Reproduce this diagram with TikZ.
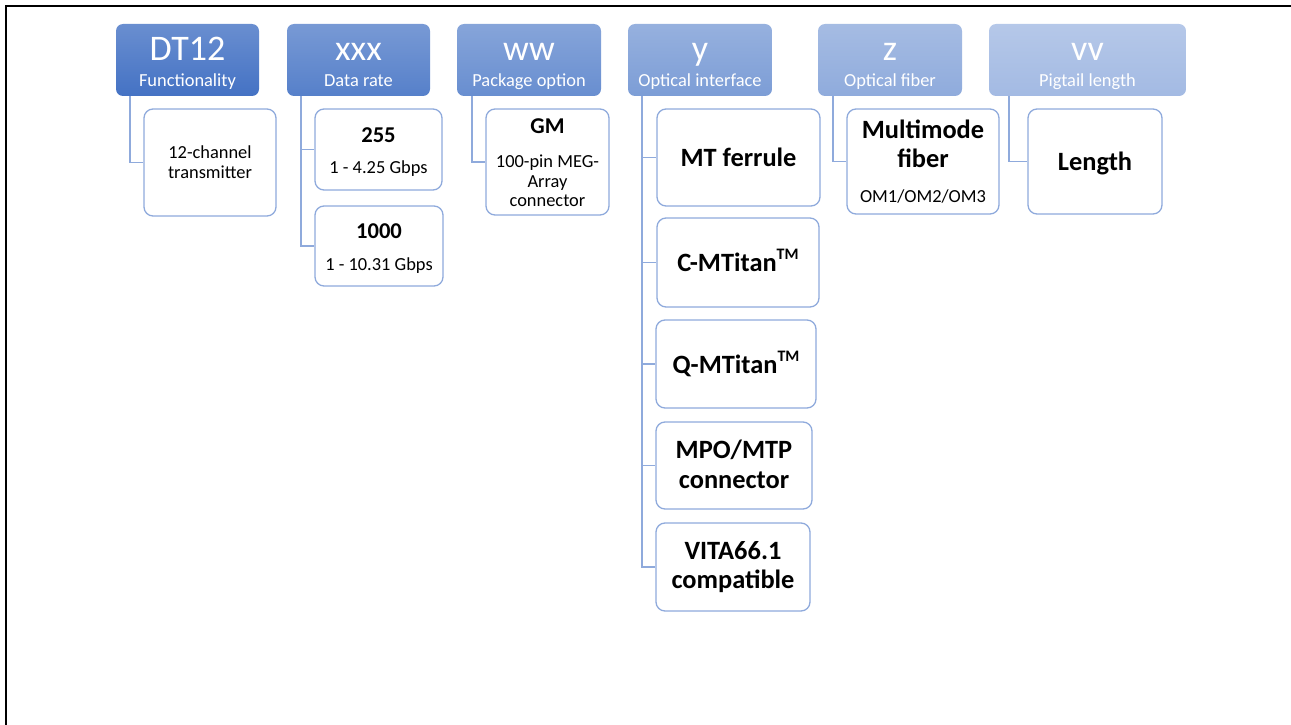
\documentclass[tikz,border=0pt]{standalone}
\usepackage{fontspec}
\setmainfont{Carlito}
\definecolor{hA}{RGB}{68,114,196}
\definecolor{hB}{RGB}{86,128,202}
\definecolor{hC}{RGB}{104,142,208}
\definecolor{hD}{RGB}{124,157,214}
\definecolor{hE}{RGB}{143,171,220}
\definecolor{hF}{RGB}{163,186,227}
\definecolor{boxc}{HTML}{8FAADC}
\definecolor{connc}{HTML}{8FAADC}
\tikzset{
  wh/.style n args={2}{minimum width=#1pt, minimum height=#2pt},
  hdr/.style={rounded corners=7pt, inner sep=0pt, top color=#1!80!white, bottom color=#1, draw=none},
  optbox/.style={draw=boxc, line width=1.3pt, rounded corners=9pt, fill=white, inner sep=0pt},
  conn/.style={draw=connc, line width=1.4pt},
  ttl/.style={anchor=base, text=white, font=\fontsize{36}{40}\selectfont, inner sep=0pt},
  sub/.style={anchor=base, text=white, font=\fontsize{18.4}{22}\selectfont, inner sep=0pt},
  reg/.style={anchor=base, text=black, font=\fontsize{18.4}{22}\selectfont, inner sep=0pt},
  bmid/.style={anchor=base, text=black, font=\fontsize{22.6}{26}\selectfont\bfseries, inner sep=0pt},
  bbig/.style={anchor=base, text=black, font=\fontsize{26.4}{30}\selectfont\bfseries, inner sep=0pt},
}
\newcommand{\tmark}{\raisebox{0.42em}{\fontsize{16}{18}\selectfont TM}}
\begin{document}
\begin{tikzpicture}[x=1pt,y=-1pt]
\useasboundingbox (0,0) rectangle (1291,725);
\draw[line width=1.8pt, line cap=rect] (6,725) -- (6,5.7) -- (1291,5.7);

% headers
\node[hdr=hA, wh={143}{72}] (h1) at (187.5,60) {};
\node[hdr=hB, wh={143}{72}] (h2) at (358.5,60) {};
\node[hdr=hC, wh={144}{72}] (h3) at (529,60) {};
\node[hdr=hD, wh={144}{72}] (h4) at (700,60) {};
\node[hdr=hE, wh={144}{72}] (h5) at (890,60) {};
\node[hdr=hF, wh={197}{72}] (h6) at (1087.5,60) {};

\node[ttl] (t1) at (187.5,60) {DT12};
\node[sub] (s1) at (187.5,86) {Functionality};
\node[ttl] (t2) at (358.5,60) {xxx};
\node[sub] (s2) at (358.5,86) {Data rate};
\node[ttl] (t3) at (529,60) {ww};
\node[sub] (s3) at (529,86) {Package option};
\node[ttl] (t4) at (700,60) {y};
\node[sub] (s4) at (700,86) {Optical interface};
\node[ttl] (t5) at (890,60) {z};
\node[sub] (s5) at (890,86) {Optical fiber};
\node[ttl] (t6) at (1087.5,60) {vv};
\node[sub] (s6) at (1087.5,86) {Pigtail length};

% option boxes
\node[optbox, wh={132}{107}] (c1) at (210,162.5) {};
\node[optbox, wh={127}{81}] (c2a) at (378.5,149.5) {};
\node[optbox, wh={128}{80}] (c2b) at (379,246) {};
\node[optbox, wh={123}{106}] (c3) at (547.5,162) {};
\node[optbox, wh={163}{97}] (c4a) at (738.5,157.5) {};
\node[optbox, wh={162}{89}] (c4b) at (738,262.5) {};
\node[optbox, wh={160}{88}] (c4c) at (736,364) {};
\node[optbox, wh={156}{87}] (c4d) at (734,465.5) {};
\node[optbox, wh={154}{88}] (c4e) at (733,567) {};
\node[optbox, wh={152}{105}] (c5) at (923,161.5) {};
\node[optbox, wh={134}{105}] (c6) at (1095,161.5) {};

% connectors
\draw[conn] ([xshift=14pt]h1.south west) |- (c1.west);
\draw[conn] ([xshift=14pt]h2.south west) |- (c2a.west);
\draw[conn] ([xshift=14pt]h2.south west) |- (c2b.west);
\draw[conn] ([xshift=15pt]h3.south west) |- (c3.west);
\draw[conn] ([xshift=14pt]h4.south west) |- (c4a.west);
\draw[conn] ([xshift=14pt]h4.south west) |- (c4b.west);
\draw[conn] ([xshift=14pt]h4.south west) |- (c4c.west);
\draw[conn] ([xshift=14pt]h4.south west) |- (c4d.west);
\draw[conn] ([xshift=14pt]h4.south west) |- (c4e.west);
\draw[conn] ([xshift=15pt]h5.south west) |- (c5.west);
\draw[conn] ([xshift=20pt]h6.south west) |- (c6.west);

% option texts
\node[reg] (x1a) at (210,158) {12-channel};
\node[reg] (x1b) at (210,178) {transmitter};
\node[bmid] (x2a) at (378.5,142) {255};
\node[reg] (x2b) at (378.5,173) {1 - 4.25 Gbps};
\node[bmid] (x2c) at (379,238) {1000};
\node[reg] (x2d) at (379,270) {1 - 10.31 Gbps};
\node[bmid] (x3a) at (547.5,133) {GM};
\node[reg] (x3b) at (547.5,167) {100-pin MEG-};
\node[reg] (x3c) at (547.5,187) {Array};
\node[reg] (x3d) at (547.5,206) {connector};
\node[bbig] (x4a) at (738.5,166) {MT ferrule};
\node[bbig] (x4b) at (738,271) {C-MTitan\tmark};
\node[bbig] (x4c) at (736,373) {Q-MTitan\tmark};
\node[bbig] (x4d) at (734,458) {MPO/MTP};
\node[bbig] (x4e) at (734,488) {connector};
\node[bbig] (x4f) at (733,559) {VITA66.1};
\node[bbig] (x4g) at (733,588) {compatible};
\node[bbig] (x5a) at (923,138) {Multimode};
\node[bbig] (x5b) at (923,167) {fiber};
\node[reg] (x5c) at (923,202) {OM1/OM2/OM3};
\node[bbig] (x6a) at (1095,170) {Length};
\end{tikzpicture}
\end{document}
